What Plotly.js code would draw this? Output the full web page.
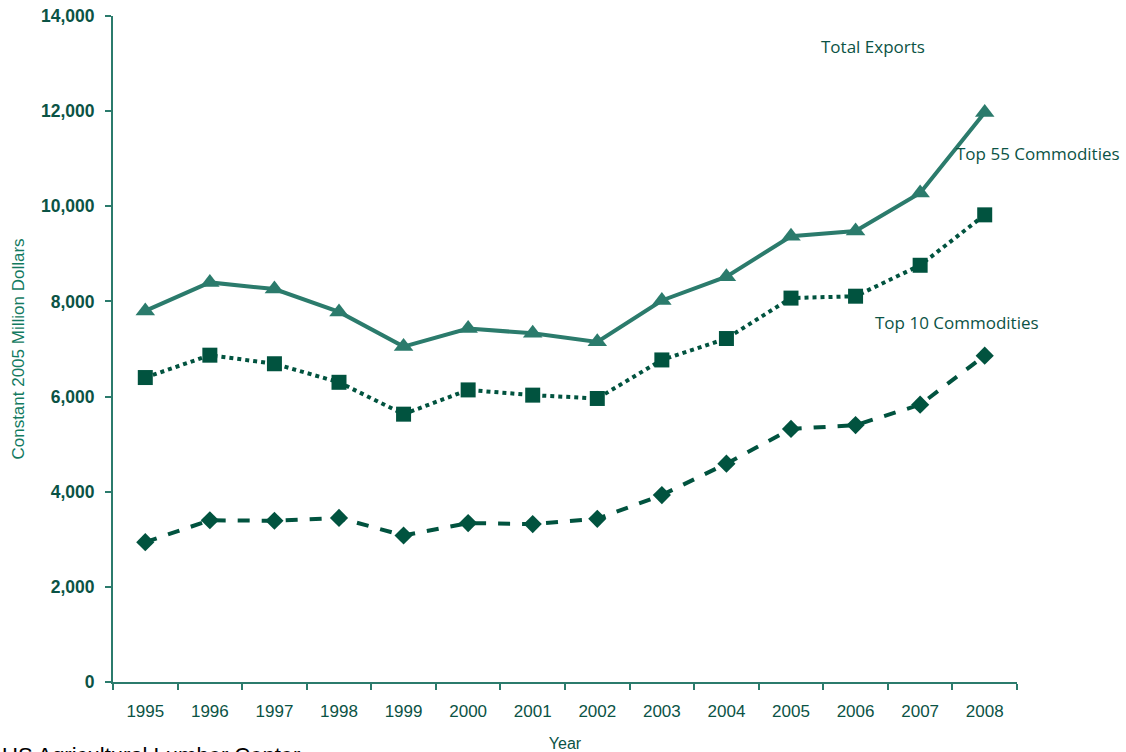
<!DOCTYPE html>
<html>
<head>
<meta charset="utf-8">
<script src="https://cdn.plot.ly/plotly-3.0.1.min.js"></script>
<style>html,body{margin:0;padding:0;background:#fff;}#chart{width:1126px;height:752px;}</style>
</head>
<body>
<div id="chart"></div>
<script>
var years = ['1995','1996','1997','1998','1999','2000','2001','2002','2003','2004','2005','2006','2007','2008'];
var totalExports = [7800, 8400, 8260, 7780, 7050, 7430, 7330, 7150, 8020, 8520, 9370, 9480, 10280, 11970];
var top55 = [6400, 6870, 6690, 6300, 5630, 6140, 6030, 5960, 6770, 7220, 8070, 8110, 8760, 9820];
var top10 = [2940, 3400, 3390, 3450, 3080, 3340, 3320, 3430, 3930, 4590, 5320, 5400, 5830, 6860];
var yTickVals = [0, 2000, 4000, 6000, 8000, 10000, 12000, 14000];
var yTickText = ['0', '2,000', '4,000', '6,000', '8,000', '10,000', '12,000', '14,000'];

var light = '#2b7b6c';
var dark = '#01533f';
var textCol = '#0b5345';

var traces = [
  {x: years, y: totalExports, mode: 'lines+markers', name: 'Total Exports',
   line: {color: light, width: 4}, marker: {symbol: 'triangle-up', size: 17, color: light}},
  {x: years, y: top55, mode: 'lines+markers', name: 'Top 55 Commodities',
   line: {color: dark, width: 4, dash: 'dot'}, marker: {symbol: 'square', size: 15, color: dark}},
  {x: years, y: top10, mode: 'lines+markers', name: 'Top 10 Commodities',
   line: {color: dark, width: 4, dash: 'dash'}, marker: {symbol: 'diamond', size: 14, color: dark}}
];

var labelFont = {family: 'Open Sans, Noto Sans, sans-serif', size: 17, color: textCol};

var layout = {
  width: 1126, height: 752,
  margin: {l: 113, r: 109, t: 16, b: 70},
  paper_bgcolor: '#fff', plot_bgcolor: '#fff',
  showlegend: false,
  xaxis: {
    type: 'category', range: [-0.5, 13.5], tickson: 'boundaries', ticks: 'outside', ticklen: 6, tickwidth: 2, tickcolor: light,
    showline: true, linecolor: light, linewidth: 2, showgrid: false, zeroline: false,
    tickfont: {family: 'Liberation Sans, Arial, sans-serif', size: 17, color: textCol},
    ticklabelstandoff: 13,
    title: {text: 'Year', font: {family: 'Liberation Sans, Arial, sans-serif', size: 16, color: textCol}, standoff: 17}
  },
  yaxis: {
    range: [0, 14000], tickvals: yTickVals, ticktext: yTickText, ticks: 'outside', ticklen: 6, tickwidth: 2, tickcolor: light,
    showline: true, linecolor: light, linewidth: 2, showgrid: false, zeroline: false,
    tickfont: {family: 'Liberation Sans, Arial, sans-serif', size: 17.5, color: textCol, weight: 'bold'},
    ticklabelstandoff: 7,
    title: {text: 'Constant 2005 Million Dollars', font: {family: 'Liberation Sans Narrow, Liberation Sans, Arial, sans-serif', size: 17, color: '#137a5f'}, standoff: 12}
  },
  annotations: [
    {xref: 'paper', yref: 'paper', x: 0.8407, y: 0.9535, text: 'Total Exports', showarrow: false, xanchor: 'center', yanchor: 'middle', font: labelFont},
    {xref: 'paper', yref: 'paper', x: 1.0232, y: 0.7928, text: 'Top 55 Commodities', showarrow: false, xanchor: 'center', yanchor: 'middle', font: labelFont},
    {xref: 'paper', yref: 'paper', x: 0.9336, y: 0.5405, text: 'Top 10 Commodities', showarrow: false, xanchor: 'center', yanchor: 'middle', font: labelFont},
    {xref: 'paper', yref: 'paper', x: -0.125, y: -0.0886, text: 'US Agricultural Lumber Center', showarrow: false, xanchor: 'left', yanchor: 'top', font: {family: 'Liberation Sans, Arial, sans-serif', size: 22, color: '#000'}}
  ]
};

Plotly.newPlot('chart', traces, layout, {staticPlot: true});
</script>
</body>
</html>
